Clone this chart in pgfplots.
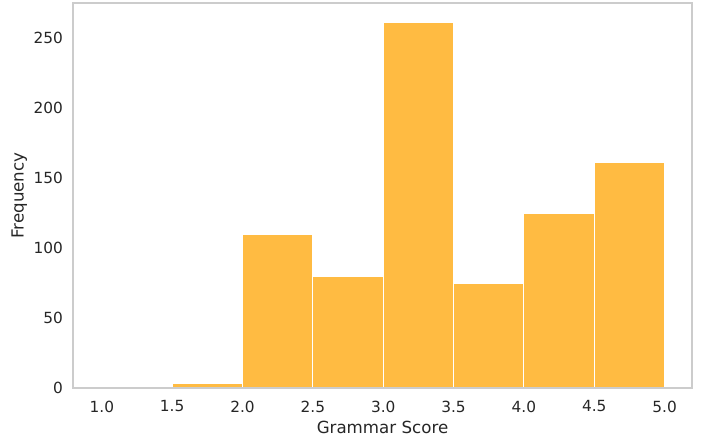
\documentclass[border=0pt]{standalone}
\usepackage{pgfplots}
\pgfplotsset{compat=1.18}
\usepackage{fontspec}
\setmainfont{DejaVu Sans}
\definecolor{barfill}{RGB}{255,187,66}
\definecolor{txt}{RGB}{38,38,38}
\definecolor{frame}{RGB}{204,204,204}
\begin{document}
\begin{tikzpicture}
\path[use as bounding box] (-54.75pt,-38.25pt) rectangle (471.75pt,291pt);
\begin{axis}[
    at={(0pt,0pt)}, anchor=south west,
    scale only axis,
    width=464.25pt, height=288.75pt,
    xmin=0.795, xmax=5.195,
    ymin=0, ymax=275,
    xtick={1,1.5,2,2.5,3,3.5,4,4.5,5},
    ytick={0,50,100,150,200,250},
    xticklabel style={/pgf/number format/.cd, fixed, fixed zerofill, precision=1},
    /pgf/number format/assume math mode=true,
    major tick length=0pt,
    axis on top,
    axis line style={frame, line width=1pt},
    tick label style={text=txt, font=\fontsize{11.5}{13}\selectfont},
    label style={text=txt, font=\fontsize{12.5}{14}\selectfont},
    xlabel={Grammar Score},
    ylabel={Frequency},
    xlabel style={yshift=0pt},
    ylabel style={yshift=-2pt},
    xticklabel shift=6pt,
    yticklabel shift=4pt,
]
\addplot[ybar interval, fill=barfill, draw=white, line width=0.9pt]
  coordinates {(1.0,0) (1.5,3) (2.0,110) (2.5,80) (3.0,261) (3.5,75) (4.0,125) (4.5,161) (5.0,0)};
\end{axis}
\end{tikzpicture}
\end{document}
